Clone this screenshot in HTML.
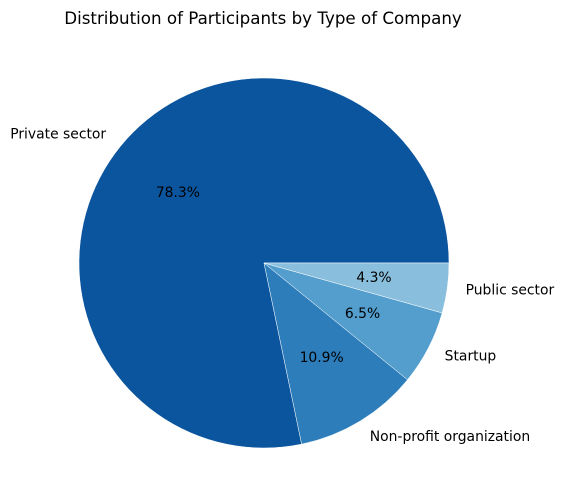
<!DOCTYPE html>
<html>
<head>
<meta charset="utf-8">
<style>
  html,body{margin:0;padding:0;background:#fff;}
  svg{display:block;font-family:"DejaVu Sans","Liberation Sans",sans-serif;}
</style>
</head>
<body>
<svg id="chart" width="563" height="504" viewBox="0 0 563 504">
  <text x="263" y="24" text-anchor="middle" font-size="16.7" fill="#000">Distribution of Participants by Type of Company</text>
  <g id="slices"></g>
  <g id="labels"></g>
</svg>
<script>
const categories = ["Private sector", "Non-profit organization", "Startup", "Public sector"];
const values = [36, 5, 3, 2];
const colors = ["#0b559f", "#2d7dbb", "#539ecd", "#89bedc"];

const cx = 264, cy = 263, R = 185;
const NS = "http://www.w3.org/2000/svg";
const total = values.reduce((a,b)=>a+b,0);
const gS = document.getElementById("slices");
const gL = document.getElementById("labels");
function pt(r, deg){ const a = deg*Math.PI/180; return [cx + r*Math.cos(a), cy - r*Math.sin(a)]; }
let start = 0;
values.forEach((v,i)=>{
  const sweep = v/total*360;
  const end = start + sweep;
  const p1 = pt(R,start), p2 = pt(R,end);
  const large = sweep > 180 ? 1 : 0;
  const path = document.createElementNS(NS,"path");
  path.setAttribute("d", `M${cx},${cy} L${p1[0]},${p1[1]} A${R},${R} 0 ${large} 0 ${p2[0]},${p2[1]} Z`);
  path.setAttribute("fill", colors[i]);
  path.setAttribute("stroke", "#ffffff");
  path.setAttribute("stroke-width", "0.5");
  
  
  gS.appendChild(path);
  const mid = start + sweep/2;
  const lp = pt(R*1.1, mid);
  const lab = document.createElementNS(NS,"text");
  lab.setAttribute("x", lp[0]);
  lab.setAttribute("y", lp[1]);
  lab.setAttribute("font-size", "13.9");
  lab.setAttribute("dominant-baseline", "central");
  lab.setAttribute("text-anchor", Math.cos(mid*Math.PI/180) < 0 ? "end" : "start");
  lab.textContent = categories[i];
  
  
  gL.appendChild(lab);
  const pp = pt(R*0.6, mid);
  const pct = document.createElementNS(NS,"text");
  pct.setAttribute("x", pp[0]);
  pct.setAttribute("y", pp[1]);
  pct.setAttribute("font-size", "13.9");
  pct.setAttribute("dominant-baseline", "central");
  pct.setAttribute("text-anchor", "middle");
  pct.textContent = (v/total*100).toFixed(1) + "%";
  
  
  gL.appendChild(pct);
  start = end;
});
</script>
</body>
</html>
